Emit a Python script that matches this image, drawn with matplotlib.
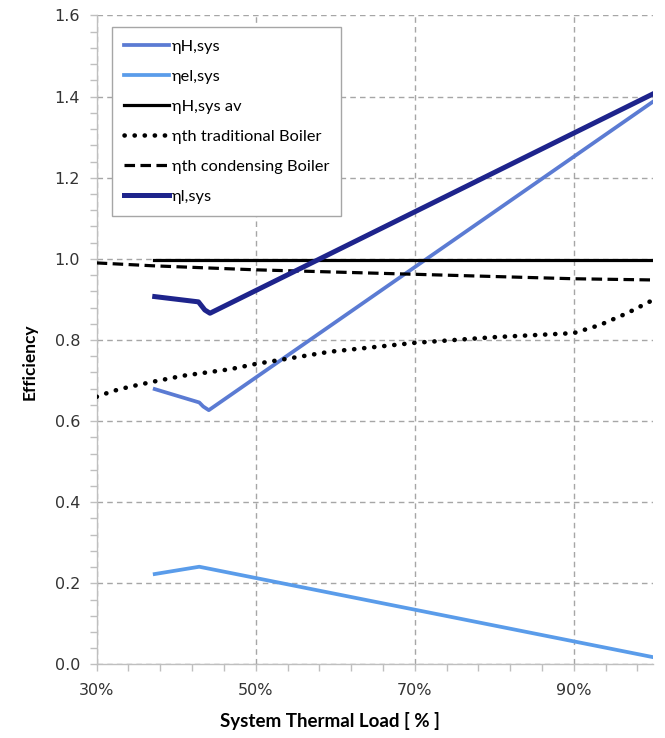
import matplotlib
matplotlib.use("Agg")
import matplotlib.pyplot as plt
from matplotlib.ticker import FixedLocator, FuncFormatter

# ---- data (x in % thermal load) ----
x_hsys = [37.3, 42.9, 43.4, 44.1, 100.0]
y_hsys = [0.679, 0.646, 0.636, 0.627, 1.388]

x_elsys = [37.3, 42.9, 100.0]
y_elsys = [0.223, 0.241, 0.018]

x_hav = [37.2, 100.0]
y_hav = [0.996, 0.996]

x_trad = [30, 32, 34.2, 37.3, 40.9, 46.8, 50, 59.3, 70, 80, 90, 93.3, 96.7, 100]
y_trad = [0.660, 0.674, 0.685, 0.698, 0.712, 0.728, 0.741, 0.771, 0.793, 0.807, 0.817, 0.837, 0.866, 0.899]

x_cond = [30, 37, 50, 70, 90, 100]
y_cond = [0.990, 0.983, 0.973, 0.962, 0.951, 0.948]

x_isys = [37.3, 42.8, 43.6, 44.25, 100.0]
y_isys = [0.907, 0.894, 0.874, 0.866, 1.407]

labels = ["ηH,sys", "ηel,sys", "ηH,sys av", "ηth traditional Boiler",
          "ηth condensing Boiler", "ηl,sys"]

x_major = [30, 50, 70, 90]
x_minor = list(range(30, 100, 4))
y_major = [0.0, 0.2, 0.4, 0.6, 0.8, 1.0, 1.2, 1.4, 1.6]

FONT = ["Lato", "Open Sans", "DejaVu Sans"]

fig = plt.figure(figsize=(6.65, 7.38), dpi=100)
ax = fig.add_axes([0.1454, 0.0996, 0.8369, 0.8794])

c_h = "#5B7BD3"
c_el = "#5A9CEA"
c_i = "#1E248C"

l1, = ax.plot(x_hsys, y_hsys, color=c_h, lw=2.7, solid_joinstyle="round", zorder=3)
l2, = ax.plot(x_elsys, y_elsys, color=c_el, lw=2.7, solid_joinstyle="round", zorder=3)
l3, = ax.plot(x_hav, y_hav, color="black", lw=2.3, zorder=3)
l4, = ax.plot(x_trad, y_trad, color="black", lw=3.3, linestyle=(0, (0.05, 2.15)),
              dash_capstyle="round", zorder=3)
l5, = ax.plot(x_cond, y_cond, color="black", lw=2.3, linestyle=(0, (3.3, 1.7)), zorder=3)
l6, = ax.plot(x_isys, y_isys, color=c_i, lw=3.6, solid_joinstyle="round", zorder=4)

ax.set_xlim(30, 100)
ax.set_ylim(0, 1.6)
ax.xaxis.set_major_locator(FixedLocator(x_major))
ax.xaxis.set_minor_locator(FixedLocator(x_minor))
ax.yaxis.set_major_locator(FixedLocator(y_major))
ax.yaxis.set_minor_locator(FixedLocator([i * 0.04 for i in range(41)]))
ax.xaxis.set_major_formatter(FuncFormatter(lambda v, p: f"{v:.0f}%"))
ax.yaxis.set_major_formatter(FuncFormatter(lambda v, p: f"{v:.1f}"))

ax.grid(True, which="major", color="#A6A6A6", linestyle=(0, (4, 3)), linewidth=1.0, zorder=0)
ax.set_axisbelow(True)
for s in ["top", "right"]:
    ax.spines[s].set_visible(False)
for s in ["left", "bottom"]:
    ax.spines[s].set_color("#BFBFBF")
    ax.spines[s].set_linewidth(1.0)

ax.tick_params(axis="both", which="both", direction="out", color="#BFBFBF", width=1.0)
ax.tick_params(axis="both", which="major", length=5, labelsize=11.5, labelcolor="#333333")
ax.tick_params(axis="both", which="minor", length=5)
ax.tick_params(axis="x", which="major", pad=8)
ax.tick_params(axis="y", which="major", pad=7)
for lab in ax.get_xticklabels() + ax.get_yticklabels():
    lab.set_family("DejaVu Sans")

ax.set_xlabel("System Thermal Load [ % ]", fontsize=13.5, fontweight="bold", family=FONT)
ax.xaxis.set_label_coords(0.419, -0.073)
ax.set_ylabel("Efficiency", fontsize=12.5, fontweight="bold", family=FONT)
ax.yaxis.set_label_coords(-0.107, 0.466)

leg = ax.legend([l1, l2, l3, l4, l5, l6], labels, loc="upper left",
                bbox_to_anchor=(0.027, 0.982), borderaxespad=0,
                prop={"family": FONT, "size": 11.8}, handlelength=2.75,
                handletextpad=0.15, labelspacing=0.95, borderpad=0.75,
                fancybox=False, framealpha=1, edgecolor="#A6A6A6")
leg.get_frame().set_linewidth(1.0)
leg.set_zorder(5)

fig.savefig("out.png", dpi=100)
